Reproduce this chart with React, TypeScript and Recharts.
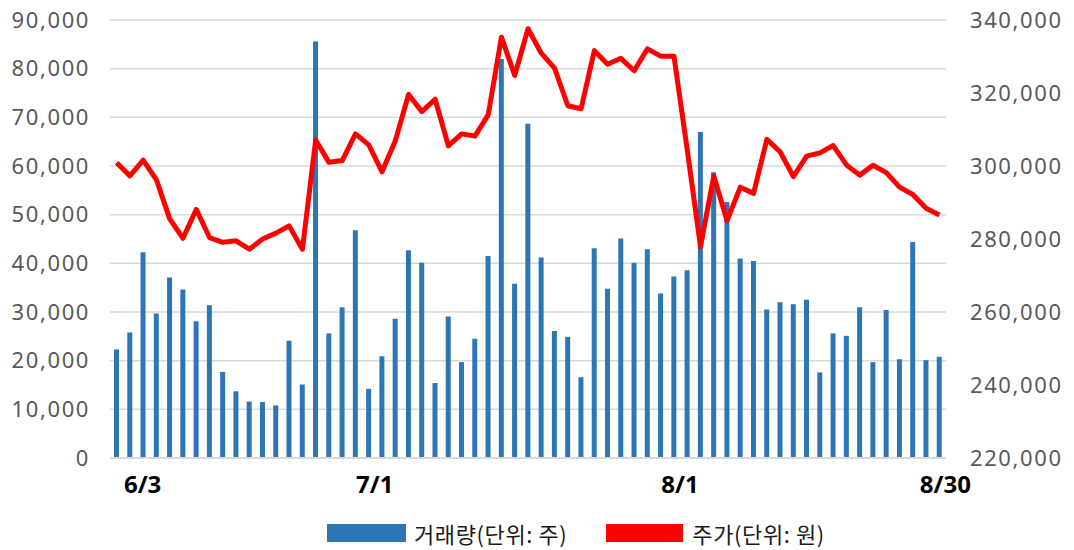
import React from 'react';
import { ComposedChart, Bar, Line, XAxis, YAxis, CartesianGrid, Legend } from 'recharts';

const dates: string[] = [
  '6/3', '6/4', '6/5', '6/7', '6/10', '6/11', '6/12', '6/13', '6/14', '6/17', '6/18', '6/19', '6/20', '6/21',
  '6/24', '6/25', '6/26', '6/27', '6/28',
  '7/1', '7/2', '7/3', '7/4', '7/5', '7/8', '7/9', '7/10', '7/11', '7/12', '7/15', '7/16', '7/17', '7/18', '7/19',
  '7/22', '7/23', '7/24', '7/25', '7/26', '7/29', '7/30', '7/31',
  '8/1', '8/2', '8/5', '8/6', '8/7', '8/8', '8/9', '8/12', '8/13', '8/14', '8/16', '8/19', '8/20', '8/21', '8/22',
  '8/23', '8/26', '8/27', '8/28', '8/29', '8/30',
];

const volume: number[] = [
  22300, 25800, 42300, 29700, 37100, 34600, 28100, 31400, 17700, 13700, 11600, 11500, 10800, 24100,
  15100, 85600, 25600, 31000, 46800,
  14200, 20900, 28600, 42700, 40100, 15400, 29100, 19700, 24500, 41500, 82000, 35800, 68700, 41200, 26100,
  24900, 16600, 43100, 34800, 45100, 40100, 42900, 33800,
  37300, 38600, 67000, 58700, 52600, 41000, 40500, 30500, 32000, 31600, 32500, 17600, 25600, 25100, 31000,
  19700, 30400, 20300, 44400, 20100, 20800,
];

const price: number[] = [
  300900, 297300, 301600, 296200, 285500, 280200, 288100, 280400, 279100, 279500, 277200, 280000, 281600, 283600,
  277200, 307100, 301000, 301500, 308800,
  305800, 298400, 306900, 319600, 314900, 318300, 305500, 308800, 308200, 314000, 335300, 324800, 337600, 330900, 326800,
  316500, 315700, 331600, 327900, 329500, 326100, 332100, 330100,
  330100, 304400, 277900, 297300, 285000, 294200, 292500, 307300, 303900, 297100, 302700, 303600, 305600, 300300, 297500,
  300200, 298200, 294200, 292200, 288400, 286600,
];

const xTicks: string[] = ['6/3', '7/1', '8/1', '8/30'];
const leftTicks: number[] = [0, 10000, 20000, 30000, 40000, 50000, 60000, 70000, 80000, 90000];
const rightTicks: number[] = [220000, 240000, 260000, 280000, 300000, 320000, 340000];

const seriesNames = { volume: '거래량(단위: 주)', price: '주가(단위: 원)' };
const colors = { volume: '#2E75B6', price: '#FF0000' };

const data = dates.map((d, i) => ({ date: d, volume: volume[i], price: price[i] }));

const fmt = (v: number) => v.toLocaleString('en-US');

const XTick = (props: any) => {
  const { x, y, payload } = props;
  const shift = payload.value === '6/3' ? 26 : 6;
  return (
    <text
      x={x + shift}
      y={y + 27}
      textAnchor="middle"
      fontFamily="'Noto Sans', 'Open Sans', sans-serif"
      fontWeight={700}
      fontSize={24}
      fill="#000000"
    >
      {payload.value}
    </text>
  );
};

const LegendContent = () => (
  <div
    style={{
      height: 44,
      width: 1074,
      display: 'flex',
      alignItems: 'center',
      paddingLeft: 327,
      boxSizing: 'border-box',
      fontFamily: "'Noto Sans CJK KR', 'Noto Sans', sans-serif",
      fontSize: 22,
      letterSpacing: 0.6,
      color: '#1a1a1a',
      paddingTop: 10,
    }}
  >
    <div style={{ width: 79, height: 18, background: colors.volume }} />
    <span style={{ marginLeft: 8, marginRight: 39 }}>{seriesNames.volume}</span>
    <div style={{ width: 77, height: 18, background: colors.price }} />
    <span style={{ marginLeft: 9 }}>{seriesNames.price}</span>
  </div>
);

export default function App() {
  const tickStyle = {
    fontFamily: "'Noto Sans', 'Open Sans', sans-serif",
    fontSize: 22,
    fill: '#595959',
    letterSpacing: 1.6,
  };
  return (
    <div style={{ position: 'absolute', left: 0, top: 0, width: 1074, height: 550, background: '#ffffff' }}>
      <ComposedChart
        width={1074}
        height={550}
        data={data}
        margin={{ top: 20, right: 0, bottom: 0, left: 0 }}
        barCategoryGap={0}
      >
        <CartesianGrid vertical={false} stroke="#D9D9D9" strokeWidth={1.5} yAxisId="left" />
        <XAxis
          dataKey="date"
          ticks={xTicks}
          interval={0}
          tick={<XTick />}
          tickLine={false}
          axisLine={{ stroke: '#D9D9D9', strokeWidth: 2 }}
          height={48}
        />
        <YAxis
          yAxisId="left"
          orientation="left"
          domain={[0, 90000]}
          ticks={leftTicks}
          tickFormatter={fmt}
          tick={tickStyle}
          tickLine={false}
          axisLine={false}
          tickMargin={14}
          width={110}
          interval={0}
        />
        <YAxis
          yAxisId="right"
          orientation="right"
          domain={[220000, 340000]}
          ticks={rightTicks}
          tickFormatter={fmt}
          tick={{ ...tickStyle, textAnchor: 'start' }}
          tickLine={false}
          axisLine={false}
          tickMargin={18}
          width={128}
          interval={0}
        />
        <Bar
          yAxisId="left"
          dataKey="volume"
          name={seriesNames.volume}
          fill={colors.volume}
          barSize={5}
          isAnimationActive={false}
        />
        <Line
          yAxisId="right"
          dataKey="price"
          name={seriesNames.price}
          stroke={colors.price}
          strokeWidth={5}
          strokeLinejoin="round"
          dot={false}
          activeDot={false}
          type="linear"
          isAnimationActive={false}
        />
        <Legend verticalAlign="bottom" height={44} content={<LegendContent />} />
      </ComposedChart>
    </div>
  );
}
